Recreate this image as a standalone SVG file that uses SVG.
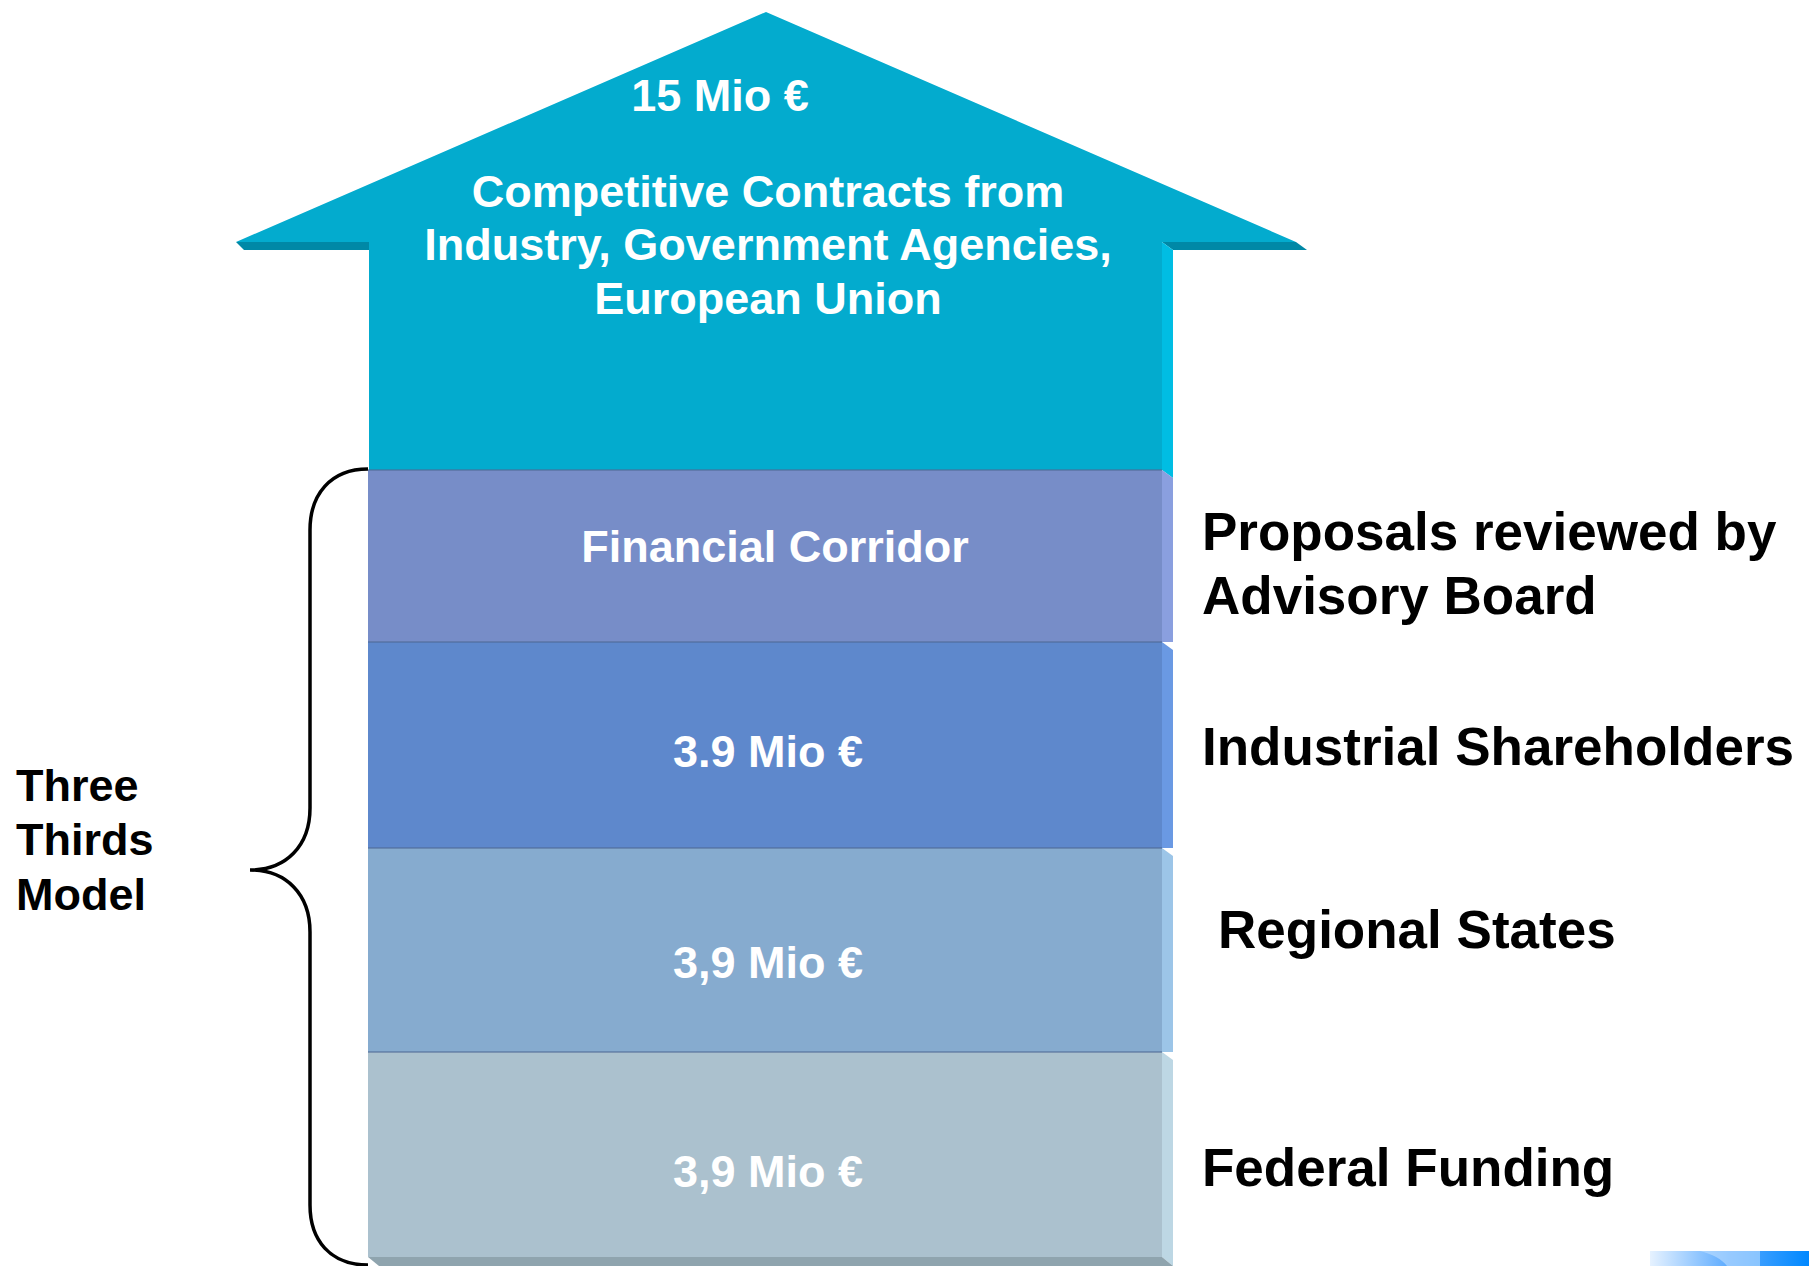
<svg xmlns="http://www.w3.org/2000/svg" width="1809" height="1266" viewBox="0 0 1809 1266">
<defs>
<style>
.w{font-family:"Liberation Sans",Arial,sans-serif;font-weight:bold;fill:#fff;font-size:45px;text-anchor:middle}
.b{font-family:"Liberation Sans",Arial,sans-serif;font-weight:bold;fill:#000;font-size:53px}
.l{font-family:"Liberation Sans",Arial,sans-serif;font-weight:bold;fill:#000;font-size:45px}
.sep{stroke:#4f6a96;stroke-width:1.5;stroke-opacity:0.7}
</style>
<linearGradient id="lg" x1="0" y1="0" x2="1" y2="0">
<stop offset="0" stop-color="#e6f2ff"/>
<stop offset="0.5" stop-color="#5aaaff"/>
<stop offset="1" stop-color="#0088ff"/>
</linearGradient>
</defs>
<rect width="1809" height="1266" fill="#fff"/>

<g id="arrow">
<polygon points="236,242 369,242 380,250 244,250" fill="#0088a6"/>
<polygon points="1162,242 1296,242 1307,250 1173,250" fill="#0088a6"/>
<polygon points="1162,242 1173,250 1173,478 1162,470" fill="#00bde3"/>
<polygon points="766,12 1296,242 1162,242 1162,470 369,470 369,242 236,242" fill="#03abce"/>
<text class="w" x="720" y="111">15 Mio €</text>
<text class="w" x="768" y="207">Competitive Contracts from</text>
<text class="w" x="768" y="260">Industry, Government Agencies,</text>
<text class="w" x="768" y="314">European Union</text>
</g>

<g id="band-financial">
<rect x="368" y="470" width="794" height="172" fill="#778dc8"/>
<polygon points="1162,470 1173,478 1173,642 1162,642" fill="#8a9fdf"/>
<text class="w" x="775" y="562">Financial Corridor</text>
</g>
<g id="band-industrial">
<rect x="368" y="642" width="794" height="206" fill="#5e88cc"/>
<polygon points="1162,642 1173,650 1173,848 1162,848" fill="#6a99e3"/>
<text class="w" x="768" y="767">3.9 Mio €</text>
</g>
<g id="band-regional">
<rect x="368" y="848" width="794" height="204" fill="#86abcf"/>
<polygon points="1162,848 1173,856 1173,1052 1162,1052" fill="#9cc5e8"/>
<text class="w" x="768" y="978">3,9 Mio €</text>
</g>
<g id="band-federal">
<rect x="368" y="1052" width="794" height="205" fill="#abc1ce"/>
<polygon points="1162,1052 1173,1060 1173,1266 1162,1257" fill="#bdd7e4"/>
<polygon points="368,1257 1162,1257 1173,1266 379,1266" fill="#8fa4ae"/>
<text class="w" x="768" y="1187">3,9 Mio €</text>
</g>
<g id="separators">
<line class="sep" x1="368" y1="470" x2="1162" y2="470"/>
<line class="sep" x1="368" y1="642" x2="1162" y2="642"/>
<line class="sep" x1="368" y1="848" x2="1162" y2="848"/>
<line class="sep" x1="368" y1="1052" x2="1162" y2="1052"/>
</g>

<g id="labels">
<text class="b" x="1202" y="550">Proposals reviewed by</text>
<text class="b" x="1202" y="614">Advisory Board</text>
<text class="b" x="1202" y="765">Industrial Shareholders</text>
<text class="b" x="1218" y="948">Regional States</text>
<text class="b" x="1202" y="1186">Federal Funding</text>
</g>

<g id="brace-label">
<text class="l" x="16" y="801">Three</text>
<text class="l" x="16" y="855">Thirds</text>
<text class="l" x="16" y="910">Model</text>
</g>

<g id="connectors">
<path d="M368,469 C330,469 310,495 310,530 L310,808 C310,846 286,870 250,870 C286,870 310,894 310,932 L310,1205 C310,1240 330,1265 368,1265" fill="none" stroke="#000" stroke-width="3.5"/>
</g>

<g id="corner">
<rect x="1650" y="1251" width="159" height="15" fill="url(#lg)"/>
<path d="M1700,1251 C1712,1254 1722,1259 1727,1266 L1760,1266 L1760,1251 Z" fill="#bfe0ff" opacity="0.6"/>
</g>
</svg>
